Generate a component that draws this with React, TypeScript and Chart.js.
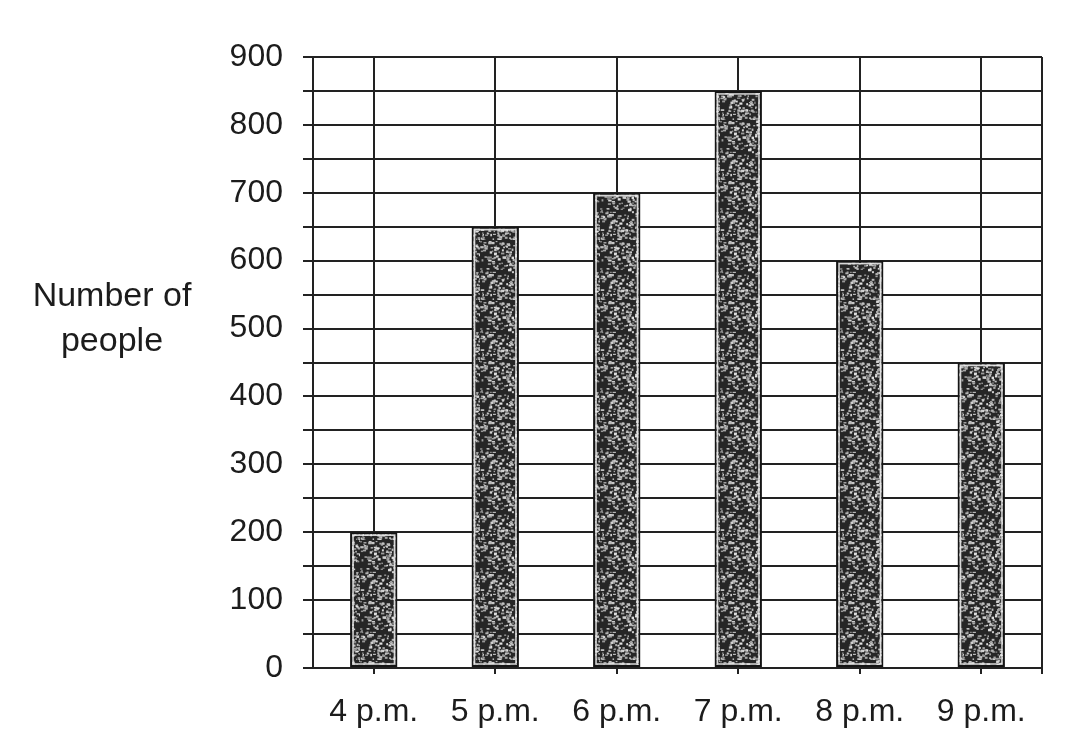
import React, { useEffect, useRef } from "react";
import { Chart, registerables } from "chart.js";

Chart.register(...registerables);

const categories = ["4 p.m.", "5 p.m.", "6 p.m.", "7 p.m.", "8 p.m.", "9 p.m."];
const peopleCounts = [200, 650, 700, 850, 600, 450];
const yTitleLines = ["Number of", "people"];
const yMin = 0;
const yMax = 900;
const yStep = 50;
const yLabelStep = 100;

const FONT = "'Liberation Sans', Arial, sans-serif";
const INK = "#1c1c1c";

function makeSpecklePattern(): CanvasPattern | string {
  const c = document.createElement("canvas");
  c.width = 60;
  c.height = 60;
  const g = c.getContext("2d");
  if (!g) return "#3c3c3c";
  g.fillStyle = "#262626";
  g.fillRect(0, 0, 60, 60);
  let s = 12345;
  const next = () => {
    s = (s * 1103515245 + 12345) % 2147483648;
    return s / 2147483648;
  };
  for (let i = 0; i < 380; i++) {
    const x = next() * 60;
    const y = next() * 60;
    const w = 1 + next() * 2.5;
    const h = 1 + next() * 1.5;
    const v = Math.floor(140 + next() * 90);
    g.fillStyle = `rgb(${v},${v},${v})`;
    g.fillRect(x, y, w, h);
  }
  return g.createPattern(c, "repeat") || "#3c3c3c";
}

const frameAndTitlePlugin = {
  id: "frameAndTitle",
  beforeDatasetsDraw(chart: any) {
    const { ctx, chartArea } = chart;
    ctx.save();
    ctx.strokeStyle = "#222";
    ctx.lineWidth = 2;
    ctx.beginPath();
    ctx.moveTo(chartArea.right, chartArea.top);
    ctx.lineTo(chartArea.right, chartArea.bottom + 6);
    ctx.stroke();
    ctx.restore();
  },
  afterDatasetsDraw(chart: any) {
    const { ctx } = chart;
    const meta = chart.getDatasetMeta(0);
    ctx.save();
    ctx.strokeStyle = "rgba(235,235,235,0.9)";
    ctx.lineWidth = 1.5;
    meta.data.forEach((bar: any) => {
      const p = bar.getProps(["x", "y", "base", "width"], true);
      const inset = 3;
      const left = p.x - p.width / 2 + inset;
      const top = Math.min(p.y, p.base) + inset;
      const w = p.width - inset * 2;
      const h = Math.abs(p.base - p.y) - inset * 2;
      if (w > 0 && h > 0) ctx.strokeRect(left, top, w, h);
    });
    ctx.restore();
  },
  afterDraw(chart: any) {
    const { ctx, chartArea } = chart;
    ctx.save();
    ctx.fillStyle = INK;
    ctx.font = `34px ${FONT}`;
    ctx.textAlign = "center";
    ctx.textBaseline = "middle";
    const cx = 112;
    const midY = (chartArea.top + chartArea.bottom) / 2;
    const lineGap = 45;
    yTitleLines.forEach((line, i) => {
      ctx.fillText(line, cx, midY + (i - (yTitleLines.length - 1) / 2) * lineGap - 43);
    });
    ctx.restore();
  },
};

export default function App() {
  const canvasRef = useRef<HTMLCanvasElement | null>(null);

  useEffect(() => {
    if (!canvasRef.current) return;
    const pattern = makeSpecklePattern();
    const chart = new Chart(canvasRef.current, {
      type: "bar",
      data: {
        labels: categories,
        datasets: [
          {
            data: peopleCounts,
            backgroundColor: pattern as any,
            borderColor: "#151515",
            borderWidth: 2,
            borderSkipped: false,
            categoryPercentage: 1,
            barPercentage: 0.39,
          },
        ],
      },
      options: {
        animation: false,
        responsive: true,
        maintainAspectRatio: false,
        devicePixelRatio: 1,
        layout: { padding: { left: 200, top: 57, right: 31, bottom: 0 } },
        plugins: {
          legend: { display: false },
          tooltip: { enabled: false },
          title: { display: false },
        },
        scales: {
          x: {
            offset: true,
            grid: {
              offset: false,
              color: "#222",
              lineWidth: 2,
              drawTicks: true,
              tickLength: 6,
            },
            border: { display: true, color: "#222", width: 2 },
            ticks: {
              color: INK,
              font: { family: FONT, size: 32 },
              padding: 19,
              maxRotation: 0,
              autoSkip: false,
            },
            afterFit: (scale: any) => {
              scale.height = 66;
            },
          },
          y: {
            min: yMin,
            max: yMax,
            grid: {
              color: "#222",
              lineWidth: 2,
              drawTicks: true,
              tickLength: 10,
            },
            border: { display: true, color: "#222", width: 2 },
            ticks: {
              stepSize: yStep,
              color: INK,
              font: { family: FONT, size: 32 },
              padding: 20,
              autoSkip: false,
              callback: (v: any) => (Number(v) % yLabelStep === 0 ? String(v) : ""),
            },
            afterFit: (scale: any) => {
              scale.width = 113;
            },
          },
        },
      },
      plugins: [frameAndTitlePlugin],
    });
    return () => chart.destroy();
  }, []);

  return (
    <div
      style={{
        position: "fixed",
        left: 0,
        top: 0,
        width: 1073,
        height: 734,
        background: "#fff",
      }}
    >
      <canvas ref={canvasRef} />
    </div>
  );
}
